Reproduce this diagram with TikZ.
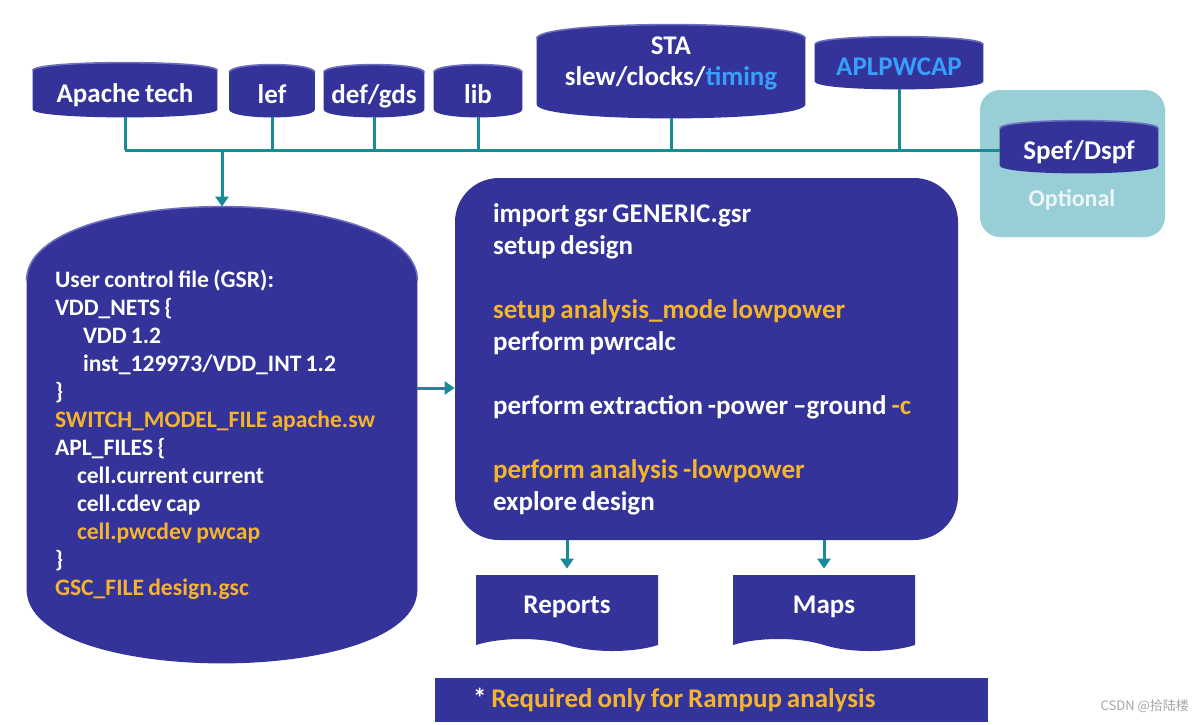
\documentclass[tikz,border=0pt]{standalone}
\usepackage{fontspec}
\setmainfont{Carlito}[WordSpace=0.8]
\newfontfamily\cjkfont{Noto Sans CJK SC}
\usetikzlibrary{shapes.symbols,arrows.meta,positioning,calc,backgrounds}
\definecolor{flowNavy}{RGB}{51,51,153}
\definecolor{flowRim}{RGB}{110,110,190}
\definecolor{flowTeal}{RGB}{24,140,150}
\definecolor{flowOrange}{RGB}{245,180,45}
\definecolor{flowSky}{RGB}{55,160,250}
\definecolor{flowMist}{RGB}{152,206,213}
\definecolor{flowPale}{RGB}{236,246,248}
\newcommand{\hl}[1]{\textcolor{flowOrange}{#1}}
\tikzset{
  drum/.style={
    rectangle, inner sep=0pt, align=center,
    text height=15pt, text depth=3pt,
    font=\fontsize{13.5}{15.5}\selectfont\bfseries,
    text=white
  },
  runbox/.style={
    rectangle, rounded corners=22pt, fill=flowNavy,
    minimum width=251.5pt, minimum height=181pt,
    text width=213.5pt, align=flush left,
    font=\fontsize{13.5}{16}\selectfont\bfseries,
    text=white
  },
  sheet/.style={
    tape, tape bend top=none, tape bend bottom=out and in,
    tape bend height=6pt, fill=flowNavy,
    minimum width=91pt, minimum height=38pt,
    font=\fontsize{13.5}{15.5}\selectfont\bfseries,
    text=white
  },
  optbox/.style={
    rectangle, rounded corners=10pt, fill=flowMist,
    minimum width=92.5pt, minimum height=73.5pt
  },
  notebar/.style={
    rectangle, fill=flowNavy,
    minimum width=276.5pt, minimum height=22pt,
    text width=238.5pt, align=flush left,
    font=\fontsize{13.5}{15.5}\selectfont\bfseries,
    text=flowOrange
  },
  busline/.style={line width=1.5pt, flowTeal},
  myarr/.style={-{Triangle[length=5pt,width=6.5pt]}, line width=1.5pt, flowTeal},
}
\begin{document}
\begin{tikzpicture}[x=0.5pt, y=-0.5pt]
  \useasboundingbox (0,0) rectangle (1200,724);

  % Row 1 -- input data
  \node[drum, minimum width=92pt, minimum height=27pt] (apache) at (125,90) {Apache tech};
  \node[drum, minimum width=42.5pt, minimum height=26pt] (lef)  at (272,91) {lef};
  \node[drum, minimum width=50pt, minimum height=26pt] (defgds) at (374,91) {def/gds};
  \node[drum, minimum width=44pt, minimum height=26pt] (lib)    at (478,91) {lib};
  \node[drum, minimum width=134pt, minimum height=46.5pt, text height=, text depth=10pt] (sta)
    at (671,71.5) {STA\\slew/clocks/\textcolor{flowSky}{timing}};
  \node[drum, minimum width=84pt, minimum height=26pt] (aplp)   at (899,63)
    {\textcolor{flowSky}{APLPWCAP}};

  % Optional extraction data
  \begin{scope}[on background layer]
    \node[optbox] (opt) at (1072.5,163.5) {};
  \end{scope}
  \node[font=\fontsize{12}{14}\selectfont\bfseries, text=flowPale] (opttxt) at (1072,200) {Optional};
  \node[drum, minimum width=79pt, minimum height=26pt] (spef) at (1079,147) {Spef/Dspf};

  % Row 2 -- control file and run script
  \node[drum, minimum width=195pt, minimum height=228pt, text width=167pt, align=flush left,
        text height=, text depth=, font=\fontsize{11.8}{14}\selectfont\bfseries] (gsr) at (222,435)
    {User control file (GSR):\\
     VDD\_NETS \{\\
     \hspace*{14pt}VDD 1.2\\
     \hspace*{14pt}inst\_129973/VDD\_INT 1.2\\
     \}\\
     \hl{SWITCH\_MODEL\_FILE apache.sw}\\
     APL\_FILES \{\\
     \hspace*{11pt}cell.current current\\
     \hspace*{11pt}cell.cdev cap\\
     \hspace*{11pt}\hl{cell.pwcdev pwcap}\\
     \}\\
     \hl{GSC\_FILE design.gsc}};

  \node[runbox] (run) at (706.5,359)
    {import gsr GENERIC.gsr\\
     setup design\\[16pt]
     \hl{setup analysis\_mode lowpower}\\
     perform pwrcalc\\[16pt]
     perform extraction -power \mbox{--ground} \hl{-c}\\[16pt]
     \hl{perform analysis -lowpower}\\
     explore design};

  % Row 3 -- outputs
  \node[sheet] (reports) at (567,607) {Reports};
  \node[sheet] (maps)    at (824,607) {Maps};

  \node[notebar] (note) at (711.5,700) {\textcolor{white}{*} Required only for Rampup analysis};
  \node[font=\cjkfont\fontsize{6.5}{8}\selectfont, text=gray!70, anchor=east] (mark) at (1196,706) {CSDN @拾陆楼};

  % Drum bodies behind the labels
  \begin{scope}[on background layer]
    \foreach \n/\c in {apache/4,lef/4,defgds/4,lib/4,sta/7,aplp/4,spef/4,gsr/37} {
      \fill[flowNavy] ([yshift=-\c*1pt]\n.north west)
        .. controls ([yshift=\c*1pt/3]\n.north west) and ([yshift=\c*1pt/3]\n.north east)
        .. ([yshift=-\c*1pt]\n.north east)
        -- ([yshift=\c*1pt]\n.south east)
        .. controls ([yshift=-\c*1pt/3]\n.south east) and ([yshift=-\c*1pt/3]\n.south west)
        .. ([yshift=\c*1pt]\n.south west) -- cycle;
      \draw[flowRim, line width=0.8pt] ([yshift=-\c*1pt]\n.north west)
        .. controls ([yshift=\c*1pt/3]\n.north west) and ([yshift=\c*1pt/3]\n.north east)
        .. ([yshift=-\c*1pt]\n.north east);
    }
  \end{scope}

  % Bus and arrows
  \coordinate (busW) at (125,150);
  \draw[busline] (busW) -- (busW -| spef.west);
  \foreach \src in {apache,lef,defgds,lib,sta,aplp}
    \draw[busline] (\src) -- (\src |- busW);
  \draw[myarr] (gsr |- busW) -- (gsr);
  \draw[myarr] (gsr.east |- 0,388) -- (run.west |- 0,388);
  \draw[myarr] (run.south -| reports) -- ([yshift=3pt]reports.north);
  \draw[myarr] (run.south -| maps) -- ([yshift=3pt]maps.north);
\end{tikzpicture}
\end{document}
